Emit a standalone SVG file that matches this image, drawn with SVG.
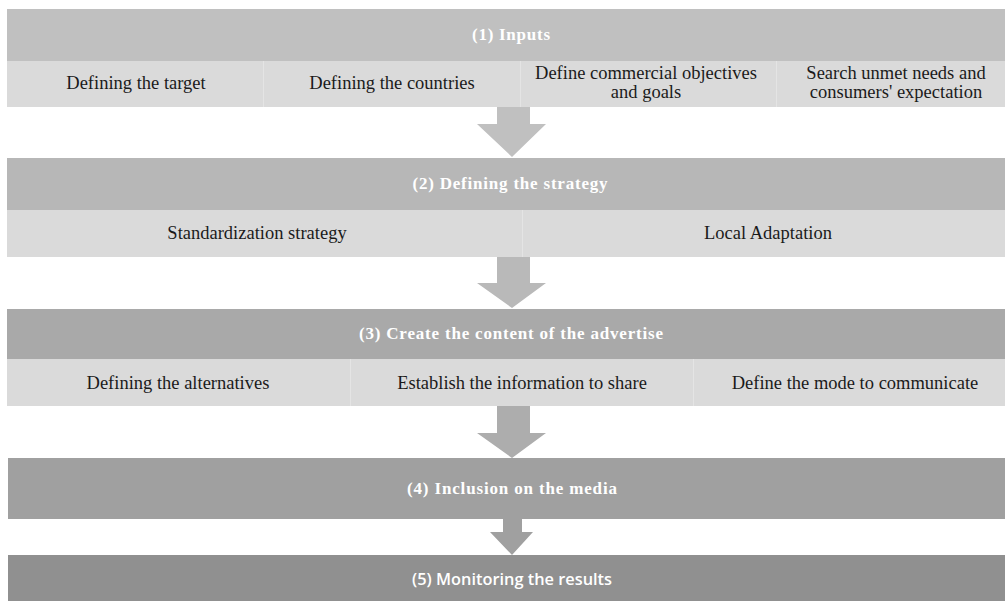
<svg xmlns="http://www.w3.org/2000/svg" width="1005" height="601" viewBox="0 0 1005 601">
  <style>
    .head { font-family: "Liberation Serif", "Times New Roman", serif; font-weight: bold; font-size: 17px; fill: #ffffff; text-anchor: middle; }
    .sub { font-family: "Liberation Serif", "Times New Roman", serif; font-size: 18.5px; fill: #1a1a1a; text-anchor: middle; }
    .sans { font-family: "Open Sans", "Liberation Sans", sans-serif; font-weight: 600; font-size: 16px; fill: #ffffff; text-anchor: middle; }
    .cell { fill: #dadada; }
    .div { stroke: #e4e4e4; stroke-width: 1; }
  </style>
  <rect width="1005" height="601" fill="#ffffff"/>

  <!-- block arrows between the stages -->
  <g id="connectors">
    <polygon points="497,107 530,107 530,124 546,124 512,157 477,124 497,124" fill="#c0c0c0"/>
    <polygon points="497,257 530,257 530,283 546,283 512,308 477,283 497,283" fill="#b9b9b9"/>
    <polygon points="497,406 530,406 530,433 546,433 512,458 477,433 497,433" fill="#adadad"/>
    <polygon points="503,519 522,519 522,532 533,532 512,555 490,532 503,532" fill="#a0a0a0"/>
  </g>

  <!-- stage 1 -->
  <g id="stage1">
    <rect x="7" y="9" width="998" height="52" fill="#c0c0c0"/>
    <text class="head" x="511" y="40" textLength="78" lengthAdjust="spacing">(1) Inputs</text>
    <rect class="cell" x="7" y="61" width="998" height="46"/>
    <line class="div" x1="263.5" y1="61" x2="263.5" y2="107"/>
    <line class="div" x1="520.5" y1="61" x2="520.5" y2="107"/>
    <line class="div" x1="776.5" y1="61" x2="776.5" y2="107"/>
    <text class="sub" x="136" y="89">Defining the target</text>
    <text class="sub" x="392" y="89">Defining the countries</text>
    <text class="sub" x="646" y="79">Define commercial objectives</text>
    <text class="sub" x="646" y="98">and goals</text>
    <text class="sub" x="896" y="79">Search unmet needs and</text>
    <text class="sub" x="896" y="98">consumers' expectation</text>
  </g>

  <!-- stage 2 -->
  <g id="stage2">
    <rect x="7" y="158" width="998" height="52" fill="#b7b7b7"/>
    <text class="head" x="510" y="189" textLength="195" lengthAdjust="spacing">(2) Defining the strategy</text>
    <rect class="cell" x="7" y="210" width="998" height="47"/>
    <line class="div" x1="522.5" y1="210" x2="522.5" y2="257"/>
    <text class="sub" x="257" y="239">Standardization strategy</text>
    <text class="sub" x="768" y="239">Local Adaptation</text>
  </g>

  <!-- stage 3 -->
  <g id="stage3">
    <rect x="7" y="309" width="998" height="50" fill="#a9a9a9"/>
    <text class="head" x="511" y="339" textLength="304" lengthAdjust="spacing">(3) Create the content of the advertise</text>
    <rect class="cell" x="7" y="359" width="998" height="47"/>
    <line class="div" x1="350.5" y1="359" x2="350.5" y2="406"/>
    <line class="div" x1="693.5" y1="359" x2="693.5" y2="406"/>
    <text class="sub" x="178" y="389">Defining the alternatives</text>
    <text class="sub" x="522" y="389">Establish the information to share</text>
    <text class="sub" x="855" y="389">Define the mode to communicate</text>
  </g>

  <!-- stage 4 -->
  <g id="stage4">
    <rect x="8" y="458" width="997" height="61" fill="#a0a0a0"/>
    <text class="head" x="512" y="494" textLength="210" lengthAdjust="spacing">(4) Inclusion on the media</text>
  </g>

  <!-- stage 5 -->
  <g id="stage5">
    <rect x="8" y="555" width="997" height="46" fill="#909090"/>
    <text class="sans" x="512" y="585" textLength="200" lengthAdjust="spacingAndGlyphs">(5) Monitoring the results</text>
  </g>
</svg>
